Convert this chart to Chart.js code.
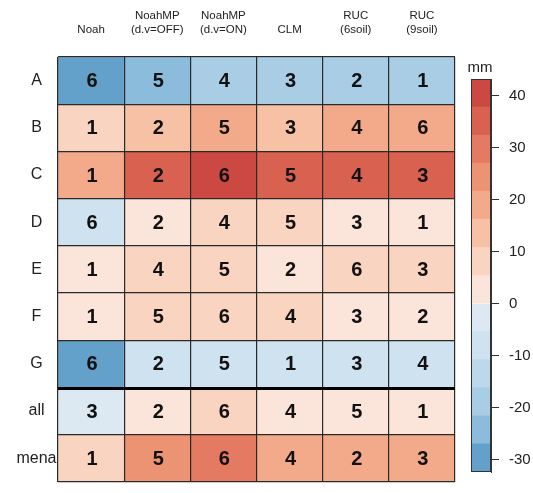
<!DOCTYPE html>
<html>
<head>
<meta charset="utf-8">
<script src="https://cdn.jsdelivr.net/npm/chart.js@4/dist/chart.umd.min.js"></script>
<style>
  html, body { margin: 0; padding: 0; background: #fff; }
  #wrap { position: relative; width: 533px; height: 493px; overflow: hidden; background: #fff; }
  #heat { position: absolute; left: 0; top: 0; }
  #bar  { position: absolute; left: 440px; top: 0; }
</style>
</head>
<body>
<div id="wrap">
  <canvas id="heat" width="460" height="493"></canvas>
  <canvas id="bar" width="93" height="493"></canvas>
</div>
<script>
// Model columns (multi-line headers)
const models = [
  ['Noah'],
  ['NoahMP', '(d.v=OFF)'],
  ['NoahMP', '(d.v=ON)'],
  ['CLM'],
  ['RUC', '(6soil)'],
  ['RUC', '(9soil)']
];

// Regions / rows, top to bottom
const rowNames = ['A', 'B', 'C', 'D', 'E', 'F', 'G', 'all', 'mena'];

// Bias (mm) per region, one value per model
const biasA    = [-30.1, -24.3, -19.6, -18.4, -17.5, -16.8];
const biasB    = [  7.9,  12.4,  19.8,  13.1,  18.7,  21.0];
const biasC    = [ 19.5,  34.6,  39.8,  36.4,  35.9,  35.2];
const biasD    = [ -8.3,   2.6,   6.2,   7.4,   3.5,   1.4];
const biasE    = [  2.1,   7.3,   8.1,   3.2,   9.0,   6.0];
const biasF    = [  2.0,   8.2,   9.1,   7.0,   4.1,   3.0];
const biasG    = [-28.2,  -6.0,  -8.4,  -5.6,  -6.5,  -7.2];
const biasAll  = [ -3.0,   2.2,   8.6,   3.4,   4.3,   1.5];
const biasMena = [  8.0,  24.9,  29.3,  20.4,  17.6,  18.9];

// Rank of each model within a region (1 = best)
const rankA    = [6, 5, 4, 3, 2, 1];
const rankB    = [1, 2, 5, 3, 4, 6];
const rankC    = [1, 2, 6, 5, 4, 3];
const rankD    = [6, 2, 4, 5, 3, 1];
const rankE    = [1, 4, 5, 2, 6, 3];
const rankF    = [1, 5, 6, 4, 3, 2];
const rankG    = [6, 2, 5, 1, 3, 4];
const rankAll  = [3, 2, 6, 4, 5, 1];
const rankMena = [1, 5, 6, 4, 2, 3];

// Discrete colour scale
const bandEdges = [-32.4, -27, -21.6, -16.2, -10.8, -5.4, 0, 5.4, 10.8, 16.2, 21.6, 27, 32.4, 37.8, 43.2];
const bandColors = [
  '#63a1cb', '#8bbcdb', '#a8cde4', '#bcd8ea', '#cfe2ef', '#dce9f3',
  '#fbe5da', '#f9d4c1', '#f7c1a6', '#f3aa8a', '#ec9374', '#e37a61', '#d9614f', '#cc4943'
];
const barTicks = [-30, -20, -10, 0, 10, 20, 30, 40];

const rowBias  = [biasA, biasB, biasC, biasD, biasE, biasF, biasG, biasAll, biasMena];
const rowRanks = [rankA, rankB, rankC, rankD, rankE, rankF, rankG, rankAll, rankMena];
const sepAfterRow = 7; // thick rule between the single regions and the aggregates

const FONT = '"Liberation Sans", Arial, Helvetica, sans-serif';

function colorFor(v) {
  for (let i = 0; i < bandColors.length; i++) {
    if (v >= bandEdges[i] && v < bandEdges[i + 1]) return bandColors[i];
  }
  return v < bandEdges[0] ? bandColors[0] : bandColors[bandColors.length - 1];
}

// Rank numbers written in each cell
const rankLabels = {
  id: 'rankLabels',
  afterDatasetsDraw(chart) {
    const ctx = chart.ctx;
    ctx.save();
    ctx.font = 'bold 20px ' + FONT;
    ctx.fillStyle = '#111';
    ctx.textAlign = 'center';
    ctx.textBaseline = 'middle';
    chart.data.datasets.forEach((ds, r) => {
      chart.getDatasetMeta(r).data.forEach((bar, c) => {
        const cy = (bar.y + bar.base) / 2;
        ctx.fillText(String(rowRanks[r][c]), bar.x + 1, cy + 1);
      });
    });
    ctx.restore();
  }
};

// Heavy separator line
const separator = {
  id: 'separator',
  afterDraw(chart) {
    const { ctx, chartArea, scales } = chart;
    const y = scales.y.getPixelForValue(sepAfterRow);
    ctx.save();
    ctx.strokeStyle = '#000';
    ctx.lineWidth = 3;
    ctx.beginPath();
    ctx.moveTo(chartArea.left, y + 1);
    ctx.lineTo(chartArea.right, y + 1);
    ctx.stroke();
    ctx.restore();
  }
};

new Chart(document.getElementById('heat'), {
  type: 'bar',
  data: {
    labels: models,
    datasets: rowNames.map((name, r) => ({
      label: name,
      data: models.map(() => 1),
      backgroundColor: rowBias[r].map(colorFor),
      borderWidth: 0,
      barPercentage: 1,
      categoryPercentage: 1,
      stack: 'grid'
    }))
  },
  options: {
    responsive: false,
    animation: false,
    layout: { padding: { left: 0, right: 5, top: 0, bottom: 1 } },
    plugins: { legend: { display: false }, tooltip: { enabled: false } },
    scales: {
      x: {
        type: 'category',
        position: 'top',
        stacked: true,
        grid: { offset: true, color: '#2a2a2a', lineWidth: 1.2, drawTicks: false, z: 1 },
        border: { display: false },
        ticks: {
          autoSkip: false, maxRotation: 0, padding: 20, color: '#222',
          font: { family: FONT, size: 11.5, lineHeight: 1.22 }
        },
        afterFit: s => { s.height = 57; }
      },
      y: {
        type: 'linear',
        position: 'right',
        stacked: true,
        reverse: true,
        min: 0,
        max: rowNames.length,
        ticks: { display: false, stepSize: 1 },
        grid: { color: '#2a2a2a', lineWidth: 1.2, drawTicks: false, z: 1 },
        border: { display: false },
        afterFit: s => { s.width = 0; }
      },
      rows: {
        type: 'category',
        labels: rowNames,
        position: 'left',
        offset: true,
        grid: { display: false, drawTicks: false },
        border: { display: false },
        ticks: {
          crossAlign: 'center', padding: 1.5, color: '#222',
          font: { family: FONT, size: 16 }
        },
        afterFit: s => { s.width = 58; }
      }
    }
  },
  plugins: [rankLabels, separator]
});

// Frame and unit label of the colour key
const keyFrame = {
  id: 'keyFrame',
  afterDraw(chart) {
    const { ctx, chartArea } = chart;
    ctx.save();
    ctx.strokeStyle = '#333';
    ctx.lineWidth = 1;
    ctx.strokeRect(Math.round(chartArea.left) + 0.5, Math.round(chartArea.top) + 0.5,
      Math.round(chartArea.right - chartArea.left) - 1, Math.round(chartArea.bottom - chartArea.top) - 1);
    ctx.fillStyle = '#222';
    ctx.font = '15px ' + FONT;
    ctx.textAlign = 'center';
    ctx.textBaseline = 'middle';
    ctx.fillText('mm', (chartArea.left + chartArea.right) / 2 - 1, chartArea.top - 11);
    ctx.restore();
  }
};

new Chart(document.getElementById('bar'), {
  type: 'bar',
  data: {
    labels: ['mm'],
    datasets: bandColors.map((col, i) => ({
      data: [[bandEdges[i], bandEdges[i + 1]]],
      backgroundColor: col,
      borderWidth: 0,
      grouped: false,
      barPercentage: 1,
      categoryPercentage: 1
    }))
  },
  options: {
    responsive: false,
    animation: false,
    layout: { padding: { left: 31, right: 0, top: 79, bottom: 21 } },
    plugins: { legend: { display: false }, tooltip: { enabled: false } },
    scales: {
      x: { display: false },
      y: {
        position: 'right',
        min: bandEdges[0],
        max: bandEdges[bandEdges.length - 1],
        afterBuildTicks: s => { s.ticks = barTicks.map(v => ({ value: v })); },
        grid: { drawOnChartArea: false, drawTicks: true, tickLength: 8, color: '#333' },
        border: { display: true, color: '#333' },
        ticks: { padding: 10, color: '#222', font: { family: FONT, size: 15 } },
        afterFit: s => { s.width = 42; }
      }
    }
  },
  plugins: [keyFrame]
});
</script>
</body>
</html>
